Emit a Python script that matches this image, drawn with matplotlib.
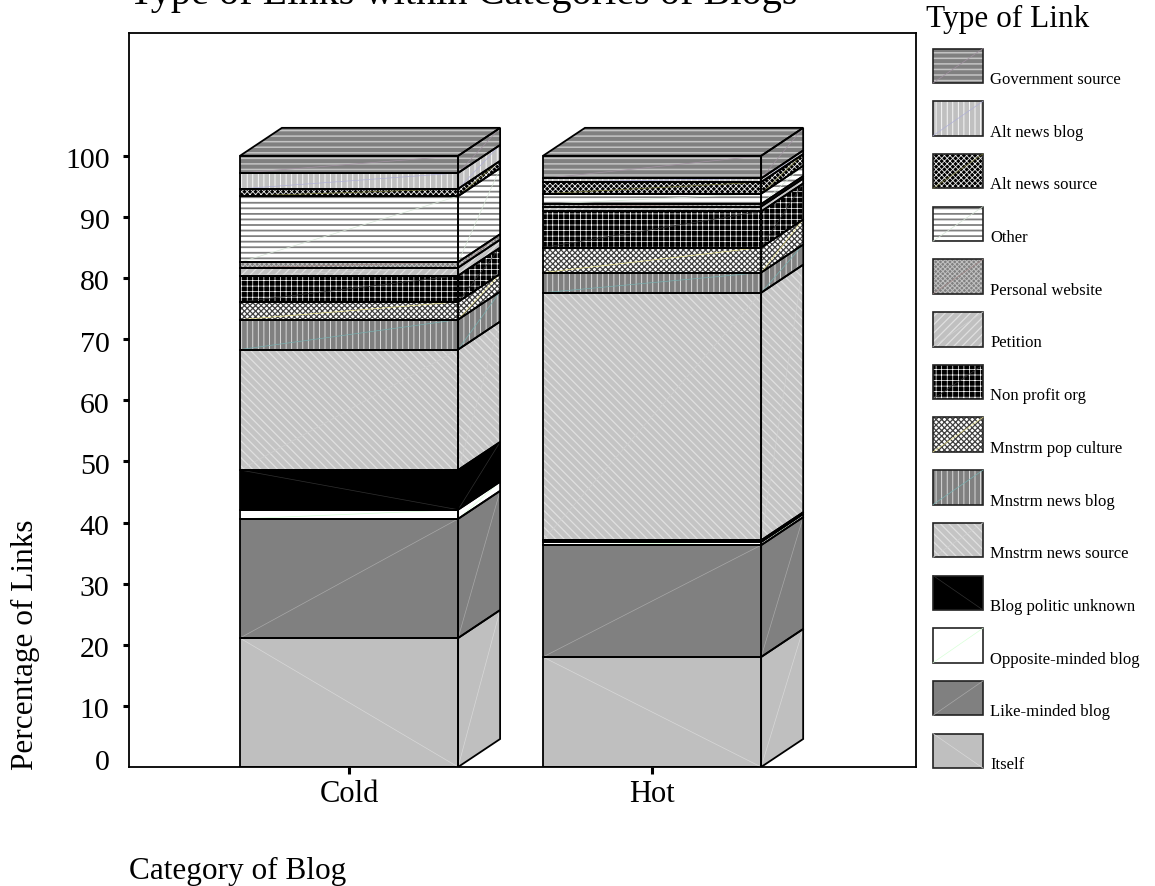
import matplotlib
matplotlib.use("Agg")
import numpy as np
import matplotlib.pyplot as plt
from matplotlib.patches import Polygon, Rectangle
from matplotlib.transforms import ScaledTranslation

categories = ["Cold", "Hot"]
link_types = ["Itself", "Like-minded blog", "Opposite-minded blog", "Blog politic unknown",
              "Mnstrm news source", "Mnstrm news blog", "Mnstrm pop culture", "Non profit org",
              "Petition", "Personal website", "Other", "Alt news source", "Alt news blog",
              "Government source"]
cold_tops = [21.1, 40.6, 42.1, 48.6, 68.3, 73.2, 76.1, 80.4, 81.7, 82.6, 93.4, 94.6, 97.2, 100.0]
hot_tops = [18.0, 36.3, 36.8, 37.1, 77.6, 80.9, 85.0, 90.9, 91.7, 92.1, 93.8, 95.7, 96.3, 100.0]
cold_vals = np.diff([0] + cold_tops)
hot_vals = np.diff([0] + hot_tops)

faces = ["#bfbfbf", "#808080", "#ffffff", "#000000", "#c4c4c4", "#808080", "#ffffff", "#000000",
         "#c0c0c0", "#808080", "#ffffff", "#000000", "#c0c0c0", "#808080"]
hatch_cols = ["#bfbfbf", "#808080", "#ffffff", "#000000", "#e0e0e0", "#e8e8e8", "#404040", "#ffffff",
              "#e0e0e0", "#c0c0c0", "#808080", "#e8e8e8", "#ffffff", "#c4c4c4"]
hatches = [None, None, None, None, "\\" * 4, "|||", "x" * 6, "+++",
           "/" * 4, "x" * 7, "---", "x" * 6, "|||", "---"]
hatch_lws = [0.5, 0.5, 0.5, 0.5, 0.9, 0.6, 0.9, 0.5, 0.9, 0.7, 1.3, 0.6, 0.6, 1.1]
diag_cols = ["#d8d8d8", "#a8a8a8", "#d8ffd8", "#303030", "#d0d0d0", "#78b0b0", "#f0e890", "#303030",
             "#d0d0d0", "#a08888", "#d8e8d8", "#707030", "#b0b0d8", "#a090a0"]
# lines that fall from left to right on the front face
falling = [True, False, False, True, False, False, False, False, False, False, False, False, False, False]

plt.rcParams["font.family"] = "Liberation Serif"

fig = plt.figure(figsize=(11.55, 8.87), dpi=100)
ax = fig.add_axes([129 / 1155, 1 - 768 / 887, 787 / 1155, 734 / 887])
ax.set_xlim(-0.726, 1.871)
ax.set_ylim(0, 120.1)

bar_w = 0.72
dep_x = 0.1386
dep_y = 4.58


def draw_bar(ax, x, vals):
    left = x - bar_w / 2
    right = x + bar_w / 2
    bottoms = np.concatenate([[0], np.cumsum(vals)[:-1]])
    for i, (v, b) in enumerate(zip(vals, bottoms)):
        plt.rcParams["hatch.linewidth"] = hatch_lws[i]
        ax.bar(x, v, bar_w, bottom=b, color=faces[i], edgecolor=hatch_cols[i], hatch=hatches[i],
               linewidth=0, zorder=2)
        ax.bar(x, v, bar_w, bottom=b, color="none", edgecolor="black", linewidth=1.3, zorder=4)
        side = [(right, b), (right + dep_x, b + dep_y), (right + dep_x, b + v + dep_y), (right, b + v)]
        ax.add_patch(Polygon(side, facecolor=faces[i], edgecolor=hatch_cols[i], hatch=hatches[i],
                             linewidth=0, zorder=2))
        ax.add_patch(Polygon(side, facecolor="none", edgecolor="black", linewidth=1.3, zorder=4))
        # thin stray diagonals
        if falling[i]:
            ax.plot([left, right], [b + v, b], color=diag_cols[i], lw=0.5, zorder=3)
        else:
            ax.plot([left, right], [b, b + v], color=diag_cols[i], lw=0.5, zorder=3)
        ax.plot([right, right + dep_x], [b, b + v + dep_y], color=diag_cols[i], lw=0.5, zorder=3)
    top = bottoms[-1] + vals[-1]
    roof = [(left, top), (left + dep_x, top + dep_y), (right + dep_x, top + dep_y), (right, top)]
    plt.rcParams["hatch.linewidth"] = hatch_lws[-1]
    ax.add_patch(Polygon(roof, facecolor=faces[-1], edgecolor=hatch_cols[-1], hatch=hatches[-1],
                         linewidth=0, zorder=2))
    ax.add_patch(Polygon(roof, facecolor="none", edgecolor="black", linewidth=1.3, zorder=4))


draw_bar(ax, 0, cold_vals)
draw_bar(ax, 1, hot_vals)

ax.set_xticks([0, 1])
ax.set_xticklabels(categories, fontsize=22)
ax.set_yticks(np.arange(0, 101, 10))
ax.set_yticklabels([str(v) for v in range(0, 101, 10)], fontsize=21.5)
ax.tick_params(axis="x", direction="out", length=5, width=2.2, pad=4)
ax.tick_params(axis="y", direction="out", length=4, width=2.2, pad=10)
ax.yaxis.get_major_ticks()[0].tick1line.set_visible(False)
ax.spines[:].set_linewidth(1.3)

# labels sit a little below their ticks, except the 0 which sits above the axis
for val, lab in zip(range(0, 101, 10), ax.get_yticklabels()):
    shift = 6 if val == 0 else -1
    lab.set_transform(lab.get_transform() + ScaledTranslation(0, shift / 72, fig.dpi_scale_trans))

fig.text(33 / 1155, 1 - 770 / 887, "Percentage of Links", rotation=90, fontsize=22.5,
         ha="left", va="baseline", rotation_mode="anchor")
fig.text(129 / 1155, 1 - 879 / 887, "Category of Blog", fontsize=22.5, ha="left", va="baseline")
# the title runs off the top edge in the original too
fig.text(129 / 1155, 1 - 4 / 887, "Type of Links within Categories of Blogs", fontsize=29,
         ha="left", va="baseline")
fig.text(926 / 1155, 1 - 27 / 887, "Type of Link", fontsize=22.5, ha="left", va="baseline")

# legend drawn by hand in pixel coordinates, top entry first
lax = fig.add_axes([0, 0, 1, 1])
lax.set_xlim(0, 1155)
lax.set_ylim(887, 0)
lax.axis("off")
lax.patch.set_alpha(0)
for n, i in enumerate(range(len(link_types) - 1, -1, -1)):
    y0 = 49.5 + n * 52.7
    plt.rcParams["hatch.linewidth"] = hatch_lws[i]
    lax.add_patch(Rectangle((933, y0), 50, 34.5, facecolor=faces[i], edgecolor=hatch_cols[i],
                            hatch=hatches[i], linewidth=0))
    if falling[i]:
        lax.plot([933, 983], [y0, y0 + 34.5], color=diag_cols[i], lw=0.5)
    else:
        lax.plot([933, 983], [y0 + 34.5, y0], color=diag_cols[i], lw=0.5)
    lax.add_patch(Rectangle((933, y0), 50, 34.5, facecolor="none", edgecolor="#222222", linewidth=1.2))
    lax.text(990.5, y0 + 34.5, link_types[i], fontsize=12, ha="left", va="baseline")

fig.savefig("out.png", dpi=100)
